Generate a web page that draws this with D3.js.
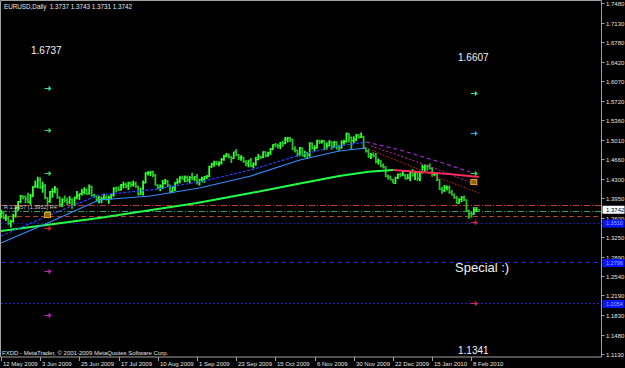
<!DOCTYPE html>
<html>
<head>
<meta charset="utf-8">
<script src="https://cdn.jsdelivr.net/npm/d3@7/dist/d3.min.js"></script>
<style>
    html, body { margin: 0; padding: 0; background: #000; }
    svg { display: block; }
    text { font-family: "Liberation Sans", Arial, sans-serif; }
</style>
</head>
<body>
<div id="chart"></div>
<script>
// EURUSD daily bars, 12 May 2009 .. 11 Feb 2010 (bar index 0 = 12 May 2009)
const opens = [
    1.3630,1.3680,1.3590,1.3590,1.3490,1.3530,1.3630,1.3780,1.3890,1.3990,
    1.3980,1.3940,1.3880,1.3990,1.4150,1.4170,1.4280,1.4150,1.4170,1.3960,
    1.3890,1.4070,1.4070,1.4120,1.3970,1.3840,1.3920,1.3910,1.3880,1.3930,
    1.3820,1.3960,1.4000,1.4030,1.4060,1.4100,1.4030,1.4160,1.4000,1.3990,
    1.3930,1.3930,1.3940,1.3970,1.3940,1.3960,1.4010,1.4130,1.4120,1.4100,
    1.4190,1.4200,1.4170,1.4230,1.4200,1.4210,1.4160,1.4020,1.4070,1.4230,
    1.4410,1.4410,1.4410,1.4370,1.4190,1.4140,1.4160,1.4220,1.4260,1.4190,
    1.4070,1.4150,1.4230,1.4250,1.4320,1.4300,1.4330,1.4280,1.4330,1.4310,
    1.4340,1.4240,1.4290,1.4300,1.4340,1.4350,1.4520,1.4570,1.4600,1.4570,
    1.4590,1.4650,1.4710,1.4730,1.4700,1.4670,1.4790,1.4740,1.4680,1.4690,
    1.4620,1.4580,1.4640,1.4540,1.4570,1.4650,1.4700,1.4690,1.4790,1.4720,
    1.4770,1.4840,1.4920,1.4910,1.4900,1.4960,1.4940,1.5020,1.5040,1.5010,
    1.4840,1.4820,1.4750,1.4860,1.4720,1.4760,1.4740,1.4950,1.4860,1.4860,
    1.4990,1.4970,1.4990,1.4850,1.4900,1.4970,1.4880,1.4960,1.4880,1.4860,
    1.4960,1.4970,1.5120,1.5050,1.4990,1.5000,1.5100,1.5060,1.5060,1.4860,
    1.4800,1.4700,1.4740,1.4720,1.4620,1.4630,1.4540,1.4520,1.4350,1.4330,
    1.4290,1.4220,1.4320,1.4380,1.4370,1.4370,1.4300,1.4320,1.4420,1.4370,
    1.4410,1.4310,1.4410,1.4510,1.4530,1.4520,1.4490,1.4380,1.4390,1.4290,
    1.4110,1.4090,1.4140,1.4140,1.4060,1.4010,1.3960,1.3860,1.3930,1.3960,
    1.3920,1.3720,1.3670,1.3660,1.3740,1.3737
];
const highs = [
    1.3740,1.3700,1.3660,1.3630,1.3560,1.3670,1.3800,1.3900,1.4010,1.4000,
    1.4000,1.4050,1.4030,1.4170,1.4270,1.4340,1.4330,1.4250,1.4210,1.3970,
    1.4080,1.4130,1.4170,1.4130,1.3980,1.3950,1.4000,1.3960,1.3990,1.3950,
    1.3980,1.4080,1.4040,1.4120,1.4150,1.4130,1.4200,1.4180,1.4030,1.4000,
    1.3990,1.3980,1.4030,1.4000,1.4000,1.4030,1.4150,1.4160,1.4170,1.4210,
    1.4250,1.4230,1.4250,1.4250,1.4270,1.4250,1.4180,1.4140,1.4270,1.4420,
    1.4440,1.4450,1.4450,1.4390,1.4200,1.4200,1.4280,1.4300,1.4280,1.4190,
    1.4170,1.4240,1.4310,1.4350,1.4360,1.4360,1.4360,1.4350,1.4410,1.4350,
    1.4390,1.4300,1.4340,1.4350,1.4370,1.4540,1.4590,1.4630,1.4630,1.4620,
    1.4680,1.4740,1.4770,1.4760,1.4710,1.4790,1.4840,1.4750,1.4730,1.4700,
    1.4640,1.4640,1.4680,1.4600,1.4700,1.4750,1.4720,1.4800,1.4800,1.4790,
    1.4860,1.4930,1.4950,1.4940,1.4970,1.4990,1.5060,1.5060,1.5060,1.5030,
    1.4890,1.4830,1.4880,1.4870,1.4810,1.4790,1.4960,1.4960,1.4910,1.5010,
    1.5010,1.5010,1.5000,1.4960,1.5000,1.4980,1.4990,1.4980,1.4920,1.5000,
    1.5010,1.5140,1.5130,1.5070,1.5070,1.5110,1.5110,1.5140,1.5080,1.4870,
    1.4850,1.4770,1.4780,1.4770,1.4670,1.4640,1.4580,1.4530,1.4380,1.4360,
    1.4300,1.4340,1.4400,1.4410,1.4460,1.4390,1.4390,1.4450,1.4480,1.4440,
    1.4430,1.4450,1.4560,1.4560,1.4560,1.4580,1.4510,1.4410,1.4410,1.4300,
    1.4160,1.4190,1.4180,1.4180,1.4100,1.4040,1.3990,1.3950,1.3990,1.4000,
    1.3930,1.3740,1.3710,1.3790,1.3790,1.3743
];
const lows = [
    1.3590,1.3570,1.3540,1.3470,1.3420,1.3510,1.3600,1.3720,1.3860,1.3930,
    1.3860,1.3860,1.3830,1.3970,1.4140,1.4130,1.4120,1.4050,1.3930,1.3830,
    1.3870,1.3960,1.4040,1.3940,1.3790,1.3790,1.3870,1.3830,1.3840,1.3760,
    1.3810,1.3930,1.3920,1.4000,1.4020,1.4010,1.4020,1.3980,1.3960,1.3890,
    1.3860,1.3860,1.3920,1.3910,1.3850,1.3930,1.3980,1.4060,1.4080,1.4090,
    1.4130,1.4130,1.4100,1.4150,1.4160,1.4140,1.4000,1.4010,1.4000,1.4220,
    1.4360,1.4350,1.4330,1.4180,1.4110,1.4080,1.4120,1.4200,1.4150,1.4040,
    1.4050,1.4080,1.4200,1.4220,1.4290,1.4240,1.4240,1.4220,1.4280,1.4260,
    1.4200,1.4180,1.4240,1.4230,1.4300,1.4330,1.4500,1.4520,1.4550,1.4530,
    1.4560,1.4630,1.4690,1.4670,1.4590,1.4660,1.4710,1.4640,1.4630,1.4590,
    1.4530,1.4510,1.4510,1.4490,1.4540,1.4640,1.4660,1.4680,1.4690,1.4700,
    1.4730,1.4820,1.4870,1.4850,1.4840,1.4880,1.4930,1.4960,1.4970,1.4820,
    1.4780,1.4700,1.4710,1.4710,1.4690,1.4660,1.4700,1.4830,1.4800,1.4850,
    1.4930,1.4940,1.4820,1.4830,1.4890,1.4830,1.4860,1.4830,1.4800,1.4850,
    1.4920,1.4960,1.4960,1.4830,1.4950,1.4990,1.5030,1.5040,1.4840,1.4780,
    1.4680,1.4660,1.4690,1.4580,1.4560,1.4510,1.4490,1.4330,1.4290,1.4270,
    1.4220,1.4210,1.4300,1.4330,1.4350,1.4290,1.4300,1.4260,1.4340,1.4280,
    1.4260,1.4260,1.4400,1.4420,1.4450,1.4470,1.4340,1.4350,1.4260,1.4100,
    1.4030,1.4060,1.4090,1.4030,1.4000,1.3940,1.3850,1.3850,1.3880,1.3900,
    1.3710,1.3580,1.3600,1.3650,1.3700,1.3731
];
const closes = [
    1.3680,1.3590,1.3590,1.3490,1.3530,1.3630,1.3780,1.3890,1.3990,1.3980,
    1.3940,1.3880,1.3990,1.4150,1.4170,1.4280,1.4150,1.4170,1.3960,1.3890,
    1.4070,1.4070,1.4120,1.3970,1.3840,1.3920,1.3910,1.3880,1.3930,1.3820,
    1.3960,1.4000,1.4030,1.4060,1.4100,1.4030,1.4160,1.4000,1.3990,1.3930,
    1.3930,1.3940,1.3970,1.3940,1.3960,1.4010,1.4130,1.4120,1.4100,1.4190,
    1.4200,1.4170,1.4230,1.4200,1.4210,1.4160,1.4020,1.4070,1.4230,1.4410,
    1.4410,1.4410,1.4370,1.4190,1.4140,1.4160,1.4220,1.4260,1.4190,1.4070,
    1.4150,1.4230,1.4250,1.4320,1.4300,1.4330,1.4280,1.4330,1.4310,1.4340,
    1.4240,1.4290,1.4300,1.4340,1.4350,1.4520,1.4570,1.4600,1.4570,1.4590,
    1.4650,1.4710,1.4730,1.4700,1.4670,1.4790,1.4740,1.4680,1.4690,1.4620,
    1.4580,1.4640,1.4540,1.4570,1.4650,1.4700,1.4690,1.4790,1.4720,1.4770,
    1.4840,1.4920,1.4910,1.4900,1.4960,1.4940,1.5020,1.5040,1.5010,1.4840,
    1.4820,1.4750,1.4860,1.4720,1.4760,1.4740,1.4950,1.4860,1.4860,1.4990,
    1.4970,1.4990,1.4850,1.4900,1.4970,1.4880,1.4960,1.4880,1.4860,1.4960,
    1.4970,1.5120,1.5050,1.4990,1.5000,1.5100,1.5060,1.5060,1.4860,1.4800,
    1.4700,1.4740,1.4720,1.4620,1.4630,1.4540,1.4520,1.4350,1.4330,1.4290,
    1.4220,1.4320,1.4380,1.4370,1.4370,1.4300,1.4320,1.4420,1.4370,1.4410,
    1.4310,1.4410,1.4510,1.4530,1.4520,1.4490,1.4380,1.4390,1.4290,1.4110,
    1.4090,1.4140,1.4140,1.4060,1.4010,1.3960,1.3860,1.3930,1.3960,1.3920,
    1.3720,1.3670,1.3660,1.3740,1.3750,1.3742
];

// Time axis: a label every 16 bars
const dateLabels = ['12 May 2009', '3 Jun 2009', '25 Jun 2009', '17 Jul 2009', '10 Aug 2009',
    '1 Sep 2009', '23 Sep 2009', '15 Oct 2009', '6 Nov 2009', '30 Nov 2009',
    '22 Dec 2009', '15 Jan 2010', '8 Feb 2010'];
const dateIndex = [0, 16, 32, 48, 64, 80, 96, 112, 128, 144, 160, 176, 192];

// Price axis ticks
const priceTicks = [1.7480, 1.7130, 1.6780, 1.6420, 1.6070, 1.5720, 1.5360, 1.5010, 1.4660,
    1.4300, 1.3950, 1.3600, 1.3250, 1.2890, 1.2540, 1.2190, 1.1830, 1.1480, 1.1130];

// Moving averages, sampled at bar indices (rising part / falling part)
const slowMaIdx = [0, 40, 80, 102, 122, 138, 150, 160, 171, 183, 195];
const slowMaVal = [1.3357, 1.3593, 1.3864, 1.4045, 1.4217, 1.4353, 1.4430, 1.4462, 1.4426, 1.4390, 1.4335];
const fastMaIdx = [0, 20, 40, 61, 81, 102, 122, 138, 149, 163, 179, 195];
const fastMaVal = [1.3267, 1.3647, 1.4009, 1.4100, 1.4245, 1.4462, 1.4734, 1.4897, 1.4969, 1.4824, 1.4607, 1.4372];
const midMaIdx = [0, 20, 40, 61, 81, 102, 122, 138, 149, 163, 179, 195];
const midMaVal = [1.3140, 1.3520, 1.3919, 1.3991, 1.4136, 1.4353, 1.4643, 1.4806, 1.4860, 1.4607, 1.4317, 1.4046];
const extraMaIdx = [151, 163, 179, 195];
const extraMaVal = [1.4897, 1.4715, 1.4462, 1.4172];

// Horizontal levels
const levelPrices = [1.3828, 1.3719, 1.3629, 1.3510, 1.2796, 1.2054];

// Pivot arrows (bar index, price)
const arrowIdx = [19, 19, 19, 19, 19, 19, 19, 193, 193, 193, 193, 193, 193];
const arrowPrice = [1.5947, 1.5186, 1.4407, 1.3647, 1.3412, 1.2633, 1.1837,
    1.5856, 1.5132, 1.4407, 1.4244, 1.3520, 1.2054];

// Text labels
const lastBarText = 'EURUSD,Daily  1.3737 1.3743 1.3731 1.3742';
const extremeHigh = '1.6737';
const forecastHigh = '1.6607';
const forecastLow = '1.1341';
const noteText = 'Special :)';

function drawChart() {
    const width = 625, height = 368;
    const plotRight = 601.5, plotBottom = 357;

    const svg = d3.select('#chart').append('svg')
        .attr('width', width)
        .attr('height', height);

    svg.append('rect')
        .attr('width', width).attr('height', height)
        .attr('fill', '#000');

    const xScale = d3.scaleLinear().domain([0, 192]).range([1, 471.4]);
    const yScale = d3.scaleLinear().domain([1.1130, 1.7480]).range([354, 3.3]);

    // Frame
    svg.append('path')
        .attr('d', `M0.5,${plotBottom}V0.5H${plotRight}V${plotBottom}H0.5`)
        .attr('fill', 'none')
        .attr('stroke', '#a0a0a0')
        .attr('stroke-width', 1);

    // Horizontal levels
    const levelStyles = [
        { color: '#c0392b', dash: '6,2,1,2' },
        { color: '#2e9e6e', dash: '6,2,1,2' },
        { color: '#c0392b', dash: '5,3' },
        { color: '#1a1aa0', dash: '2,2' },
        { color: '#2222dd', dash: '5,3' },
        { color: '#2222cc', dash: '2,2' }
    ];
    levelPrices.forEach((p, i) => {
        svg.append('line')
            .attr('x1', 1).attr('x2', plotRight)
            .attr('y1', Math.round(yScale(p)) + 0.5)
            .attr('y2', Math.round(yScale(p)) + 0.5)
            .attr('stroke', levelStyles[i].color)
            .attr('stroke-width', 1)
            .attr('stroke-dasharray', levelStyles[i].dash);
    });

    // OHLC bars
    const bars = svg.append('g').attr('class', 'bars');
    closes.forEach((c, i) => {
        const x = xScale(i);
        const color = c >= opens[i] ? '#33ff33' : '#2cc02c';
        bars.append('line')
            .attr('x1', x).attr('x2', x)
            .attr('y1', yScale(highs[i])).attr('y2', yScale(lows[i]))
            .attr('stroke', color).attr('stroke-width', 1.8);
        bars.append('line')
            .attr('x1', x - 1.5).attr('x2', x)
            .attr('y1', yScale(opens[i])).attr('y2', yScale(opens[i]))
            .attr('stroke', color).attr('stroke-width', 1);
        bars.append('line')
            .attr('x1', x).attr('x2', x + 1.5)
            .attr('y1', yScale(c)).attr('y2', yScale(c))
            .attr('stroke', color).attr('stroke-width', 1);
    });

    // Moving averages: colour changes where the average turns down
    const line = d3.line()
        .x(d => xScale(d[0]))
        .y(d => yScale(d[1]));

    function drawMa(idx, val, turn, upColor, downColor, width, dashUp, dashDown) {
        const pts = idx.map((d, i) => [d, val[i]]);
        const up = pts.filter(d => d[0] <= turn);
        const down = pts.filter(d => d[0] >= turn);
        if (up.length > 1) {
            svg.append('path').datum(up)
                .attr('d', line)
                .attr('fill', 'none')
                .attr('stroke', upColor)
                .attr('stroke-width', width)
                .attr('stroke-dasharray', dashUp);
        }
        if (down.length > 1) {
            svg.append('path').datum(down)
                .attr('d', line)
                .attr('fill', 'none')
                .attr('stroke', downColor)
                .attr('stroke-width', width)
                .attr('stroke-dasharray', dashDown);
        }
    }

    drawMa(slowMaIdx, slowMaVal, 160, '#22ff44', '#ff2a5a', 2, null, null);
    drawMa(midMaIdx, midMaVal, 149, '#2f8fff', '#b01818', 1.2, null, '1.5,1.5');
    drawMa(fastMaIdx, fastMaVal, 149, '#2a3cff', '#9a2bc8', 1.2, '3,1.5', '4,3');
    drawMa(extraMaIdx, extraMaVal, 151, '#cc22aa', '#cc22aa', 1, '2,2', '2,2');

    // Pivot arrows
    const arrowColors = ['#2ee6a0', '#33dd55', '#33dd55', '#e0a020', '#ee2222', '#cc22cc', '#cc22cc',
        '#2ee6a0', '#22aaff', '#33dd55', '#e0a020', '#ee2222', '#ee2244'];
    arrowIdx.forEach((b, i) => {
        const x = xScale(b), y = Math.round(yScale(arrowPrice[i])) + 0.5;
        if (arrowColors[i] === '#e0a020') {
            svg.append('rect')
                .attr('x', x - 3).attr('y', y - 3)
                .attr('width', 6).attr('height', 5)
                .attr('fill', '#8a6a10')
                .attr('stroke', arrowColors[i]).attr('stroke-width', 1);
        } else {
            svg.append('path')
                .attr('d', `M${x - 3},${y}H${x + 3}M${x + 1},${y - 2}L${x + 3},${y}L${x + 1},${y + 2}`)
                .attr('fill', 'none')
                .attr('stroke', arrowColors[i])
                .attr('stroke-width', 1.2);
        }
    });

    // Price axis
    const priceAxis = svg.append('g').attr('class', 'price-axis');
    priceTicks.forEach(p => {
        const y = Math.round(yScale(p)) + 0.5;
        priceAxis.append('line')
            .attr('x1', plotRight).attr('x2', plotRight + 3)
            .attr('y1', y).attr('y2', y)
            .attr('stroke', '#a0a0a0');
        priceAxis.append('text')
            .attr('x', 606).attr('y', y)
            .attr('dy', '0.35em')
            .style('font-size', '6px')
            .style('fill', '#e0e0e0')
            .text(p.toFixed(4));
    });

    // Level price boxes on the axis
    [levelPrices[3], levelPrices[4], levelPrices[5]].forEach(p => {
        const y = yScale(p) + 0.5;
        priceAxis.append('rect')
            .attr('x', plotRight + 1).attr('y', y - 3.5)
            .attr('width', 22).attr('height', 8)
            .attr('fill', '#0a14ff');
        priceAxis.append('text')
            .attr('x', 606).attr('y', y + 0.5)
            .attr('dy', '0.35em')
            .style('font-size', '5.5px')
            .style('fill', '#8fb0ff')
            .text(p.toFixed(4));
    });
    const lastY = yScale(closes[closes.length - 1]);
    priceAxis.append('rect')
        .attr('x', plotRight + 1).attr('y', lastY - 4)
        .attr('width', 22).attr('height', 8)
        .attr('fill', '#fff');
    priceAxis.append('text')
        .attr('x', 606).attr('y', lastY)
        .attr('dy', '0.35em')
        .style('font-size', '6px')
        .style('fill', '#000')
        .text(closes[closes.length - 1].toFixed(4));

    // Time axis
    dateIndex.forEach((b, i) => {
        const x = Math.round(xScale(b)) + 0.5;
        svg.append('line')
            .attr('x1', x).attr('x2', x)
            .attr('y1', plotBottom).attr('y2', plotBottom + 4)
            .attr('stroke', '#a0a0a0');
        svg.append('text')
            .attr('x', x + 1.5).attr('y', 366)
            .style('font-size', '6px')
            .style('fill', '#e0e0e0')
            .text(dateLabels[i]);
    });

    // Texts
    svg.append('text')
        .attr('x', 4).attr('y', 8.5)
        .style('font-size', '6.3px')
        .style('fill', '#e8e8e8')
        .style('white-space', 'pre')
        .text(lastBarText);

    svg.append('text')
        .attr('x', 2).attr('y', 355)
        .style('font-size', '6px')
        .style('fill', '#e0e0e0')
        .text('FXDD - MetaTrader, © 2001-2009 MetaQuotes Software Corp.');

    svg.append('text')
        .attr('x', 4).attr('y', 209)
        .style('font-size', '5.5px')
        .style('fill', '#d0d0d0')
        .text('R 1.3957 (1.3952) R4');

    const bigText = [
        { t: extremeHigh, x: 31, y: 54, s: 10 },
        { t: forecastHigh, x: 458, y: 61, s: 10 },
        { t: forecastLow, x: 458, y: 354, s: 10 },
        { t: noteText, x: 455, y: 272, s: 13 }
    ];
    bigText.forEach(d => {
        svg.append('text')
            .attr('x', d.x).attr('y', d.y)
            .style('font-size', d.s + 'px')
            .style('fill', '#f2f2f2')
            .text(d.t);
    });
}

drawChart();
</script>
</body>
</html>
